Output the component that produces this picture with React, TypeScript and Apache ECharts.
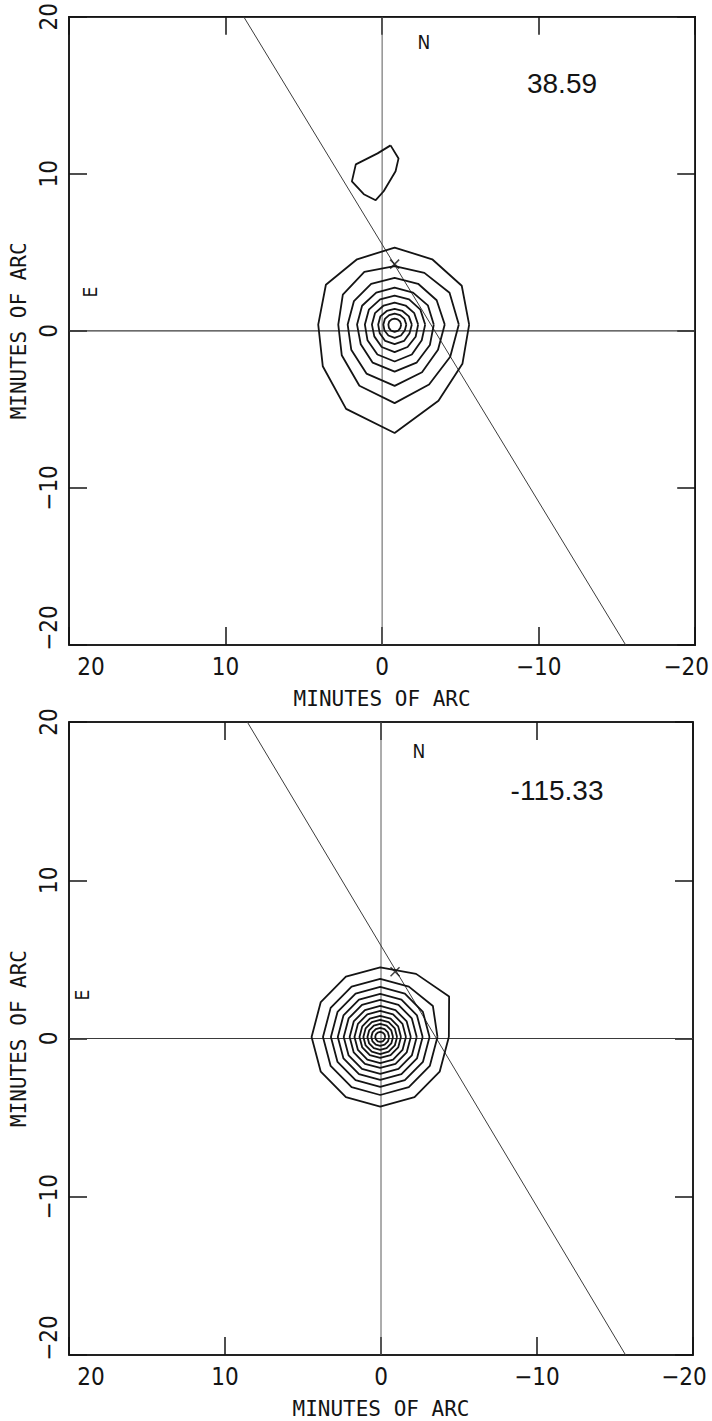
import { useEffect, useRef } from "react";
import * as echarts from "echarts";

// Shared axis extent (minutes of arc)
const AXIS_MIN = -20;
const AXIS_MAX = 20;
const AXIS_STEP = 10;

// Contour radii are sampled every 30 degrees, 0 = screen right (west), 90 = north
const RING_ANGLES = [0, 30, 60, 90, 120, 150, 180, 210, 240, 270, 300, 330];

// ---- Upper map ----
const UPPER_VALUE = "38.59";
const UPPER_CENTER = [-0.8, 0.4];
const UPPER_RINGS = [
  [4.76, 4.95, 4.8, 4.9, 4.8, 5.07, 4.88, 5.3, 6.2, 6.9, 5.6, 5.0],
  [4.1, 4.05, 3.8, 3.72, 3.87, 3.82, 3.6, 3.9, 4.5, 5.0, 4.4, 4.1],
  [3.2, 3.1, 3.0, 2.98, 3.0, 3.0, 3.0, 3.2, 3.6, 3.9, 3.5, 3.2],
  [2.5, 2.45, 2.35, 2.35, 2.35, 2.4, 2.4, 2.5, 2.8, 3.0, 2.8, 2.6],
  [1.95, 1.9, 1.85, 1.84, 1.85, 1.9, 1.9, 2.0, 2.2, 2.35, 2.2, 2.0],
  [1.5, 1.45, 1.4, 1.4, 1.4, 1.45, 1.45, 1.5, 1.65, 1.75, 1.65, 1.55],
  [1.1, 1.05, 1.0, 1.0, 1.0, 1.05, 1.05, 1.1, 1.2, 1.25, 1.2, 1.1],
  [0.75, 0.72, 0.7, 0.7, 0.7, 0.72, 0.72, 0.75, 0.8, 0.85, 0.8, 0.75],
  [0.42, 0.4, 0.38, 0.38, 0.38, 0.4, 0.4, 0.42, 0.45, 0.47, 0.45, 0.42],
];
const UPPER_SIDE_SOURCE = [
  [-0.54, 11.81], [-1.05, 10.98], [-0.86, 10.16], [-0.1, 8.89], [0.41, 8.32],
  [1.17, 8.7], [1.93, 9.52], [1.68, 10.6], [0.29, 11.3],
];
const UPPER_TRACK = [[8.84, 20], [-15.56, -20]];
const UPPER_MARK = [-0.8, 4.25];

// ---- Lower map ----
const LOWER_VALUE = "-115.33";
const LOWER_CENTER = [0.05, 0.1];
const LOWER_RINGS = [
  [4.4, 5.1, 4.6, 4.4, 4.4, 4.4, 4.4, 4.4, 4.4, 4.4, 4.4, 4.4],
  [3.67, 3.9, 3.67, 3.67, 3.67, 3.67, 3.67, 3.67, 3.67, 3.67, 3.67, 3.67],
  [3.16, 3.16, 3.16, 3.16, 3.16, 3.16, 3.16, 3.16, 3.16, 3.16, 3.16, 3.16],
  [2.72, 2.72, 2.72, 2.72, 2.72, 2.72, 2.72, 2.72, 2.72, 2.72, 2.72, 2.72],
  [2.34, 2.34, 2.34, 2.34, 2.34, 2.34, 2.34, 2.34, 2.34, 2.34, 2.34, 2.34],
  [1.96, 1.96, 1.96, 1.96, 1.96, 1.96, 1.96, 1.96, 1.96, 1.96, 1.96, 1.96],
  [1.65, 1.65, 1.65, 1.65, 1.65, 1.65, 1.65, 1.65, 1.65, 1.65, 1.65, 1.65],
  [1.33, 1.33, 1.33, 1.33, 1.33, 1.33, 1.33, 1.33, 1.33, 1.33, 1.33, 1.33],
  [1.08, 1.08, 1.08, 1.08, 1.08, 1.08, 1.08, 1.08, 1.08, 1.08, 1.08, 1.08],
  [0.82, 0.82, 0.82, 0.82, 0.82, 0.82, 0.82, 0.82, 0.82, 0.82, 0.82, 0.82],
  [0.57, 0.57, 0.57, 0.57, 0.57, 0.57, 0.57, 0.57, 0.57, 0.57, 0.57, 0.57],
  [0.32, 0.32, 0.32, 0.32, 0.32, 0.32, 0.32, 0.32, 0.32, 0.32, 0.32, 0.32],
];
const LOWER_TRACK = [[8.57, 20], [-15.68, -20]];
const LOWER_MARK = [-0.9, 4.22];

const AXIS_TITLE = "MINUTES OF ARC";
const NUM_FONT = "'Liberation Sans Narrow', 'DejaVu Sans Condensed', 'Liberation Sans', sans-serif";
const TITLE_FONT = "'DejaVu Sans Mono', 'Liberation Mono', monospace";
const VALUE_FONT = "'Liberation Sans', Arial, sans-serif";
const INK = "#141414";

// Closed polyline in data units from radii around a centre.
function ringPoints(center: number[], radii: number[]) {
  const pts = radii.map((r, i) => {
    const a = (RING_ANGLES[i] * Math.PI) / 180;
    // x axis runs east→west (inverse), so screen-right means decreasing x
    return [center[0] - r * Math.cos(a), center[1] + r * Math.sin(a)];
  });
  pts.push(pts[0]);
  return pts;
}

function closed(points: number[][]) {
  return [...points, points[0]];
}

const tickFormatter = (v: number) => {
  const s = v < 0 ? "\u2212" + Math.abs(v) : String(v);
  if (v === AXIS_MAX) return "{hi|" + s + "}";
  if (v === AXIS_MIN) return "{lo|" + s + "}";
  return "{n|" + s + "}";
};

function numRich(hiPad: number[], loPad: number[]) {
  const base = { fontFamily: NUM_FONT, fontSize: 24, color: INK };
  return {
    n: { ...base },
    hi: { ...base, padding: hiPad },
    lo: { ...base, padding: loPad },
  };
}

function axesFor(gridIndex: number) {
  const tick = { show: true, inside: true, length: 18, lineStyle: { color: INK, width: 1.5 } };
  const line = { show: true, lineStyle: { color: INK, width: 1.5 } };
  const x = [
    {
      gridIndex, type: "value", min: AXIS_MIN, max: AXIS_MAX, interval: AXIS_STEP, inverse: true,
      position: "bottom", axisLine: { ...line, onZero: false }, axisTick: tick, splitLine: { show: false },
      axisLabel: { margin: 10, formatter: tickFormatter, rich: numRich([0, 0, 0, 44], [0, 18, 0, 0]) },
      name: AXIS_TITLE, nameLocation: "middle", nameGap: 43,
      nameTextStyle: { fontFamily: TITLE_FONT, fontSize: 21, color: INK },
    },
    {
      gridIndex, type: "value", min: AXIS_MIN, max: AXIS_MAX, interval: AXIS_STEP, inverse: true,
      position: "top", axisLine: { ...line, onZero: false }, axisTick: tick, splitLine: { show: false },
      axisLabel: { show: false },
    },
  ];
  const y = [
    {
      gridIndex, type: "value", min: AXIS_MIN, max: AXIS_MAX, interval: AXIS_STEP,
      position: "left", axisLine: { ...line, onZero: false }, axisTick: tick, splitLine: { show: false },
      axisLabel: { rotate: 90, margin: 8, formatter: tickFormatter, rich: numRich([0, 0, 0, 0], [0, 0, 0, 34]) },
      name: AXIS_TITLE, nameLocation: "middle", nameGap: 40, nameRotate: 90,
      nameTextStyle: { fontFamily: TITLE_FONT, fontSize: 21, color: INK },
    },
    {
      gridIndex, type: "value", min: AXIS_MIN, max: AXIS_MAX, interval: AXIS_STEP,
      position: "right", axisLine: { ...line, onZero: false }, axisTick: tick, splitLine: { show: false },
      axisLabel: { show: false },
    },
  ];
  return { x, y };
}

function panelSeries(
  gridIndex: number,
  center: number[],
  rings: number[][],
  extra: number[][][],
  track: number[][],
  mark: number[],
) {
  const xAxisIndex = gridIndex * 2;
  const yAxisIndex = gridIndex * 2;
  const thin = (data: number[][], color: string, width: number) => ({
    type: "line", xAxisIndex, yAxisIndex, data, symbol: "none", silent: true,
    lineStyle: { color, width }, z: 2,
  });
  const series: any[] = [
    thin([[0, AXIS_MIN], [0, AXIS_MAX]], "#5a5a5a", 1),
    thin([[AXIS_MIN, 0], [AXIS_MAX, 0]], "#3a3a3a", 1.2),
    thin(track, "#3c3c3c", 1),
  ];
  rings.forEach((r) => series.push({ ...thin(ringPoints(center, r), INK, 1.8), z: 3 }));
  extra.forEach((p) => series.push({ ...thin(closed(p), INK, 1.8), z: 3 }));
  series.push({
    type: "scatter", xAxisIndex, yAxisIndex, data: [mark], silent: true, z: 4,
    symbol: "path://M0,0L10,10M10,0L0,10", symbolSize: 9,
    itemStyle: { color: "none", borderColor: INK, borderWidth: 1.5 },
  });
  return series;
}

export default function App() {
  const ref = useRef<HTMLDivElement>(null);

  useEffect(() => {
    if (!ref.current) return;
    const chart = echarts.init(ref.current, undefined, { renderer: "svg" });
    const g0 = axesFor(0);
    const g1 = axesFor(1);

    const annot = (x: number, y: number, text: string, size: number, font: string, rot = 0) => ({
      type: "text", x, y, rotation: rot,
      style: { text, fontSize: size, fontFamily: font, fill: INK, textAlign: "center", textVerticalAlign: "middle" },
      silent: true,
    });

    chart.setOption({
      animation: false,
      backgroundColor: "#ffffff",
      grid: [
        { left: 68, top: 15, width: 631, height: 630, show: true, borderColor: INK, borderWidth: 1.5, backgroundColor: "transparent" },
        { left: 63, top: 722, width: 630, height: 633, show: true, borderColor: INK, borderWidth: 1.5, backgroundColor: "transparent" },
      ],
      xAxis: [...g0.x, ...g1.x],
      yAxis: [...g0.y, ...g1.y],
      series: [
        ...panelSeries(0, UPPER_CENTER, UPPER_RINGS, [UPPER_SIDE_SOURCE], UPPER_TRACK, UPPER_MARK),
        ...panelSeries(1, LOWER_CENTER, LOWER_RINGS, [], LOWER_TRACK, LOWER_MARK),
      ],
      graphic: [
        annot(424, 42, "N", 19, NUM_FONT),
        annot(90, 292, "E", 19, NUM_FONT, Math.PI / 2),
        annot(562, 83, UPPER_VALUE, 28, VALUE_FONT),
        annot(419, 751, "N", 19, NUM_FONT),
        annot(82, 995, "E", 19, NUM_FONT, Math.PI / 2),
        annot(557, 790, LOWER_VALUE, 28, VALUE_FONT),
      ],
    });
    return () => chart.dispose();
  }, []);

  return (
    <div
      ref={ref}
      style={{ position: "absolute", left: 0, top: 0, width: 712, height: 1421, background: "#fff" }}
    />
  );
}
